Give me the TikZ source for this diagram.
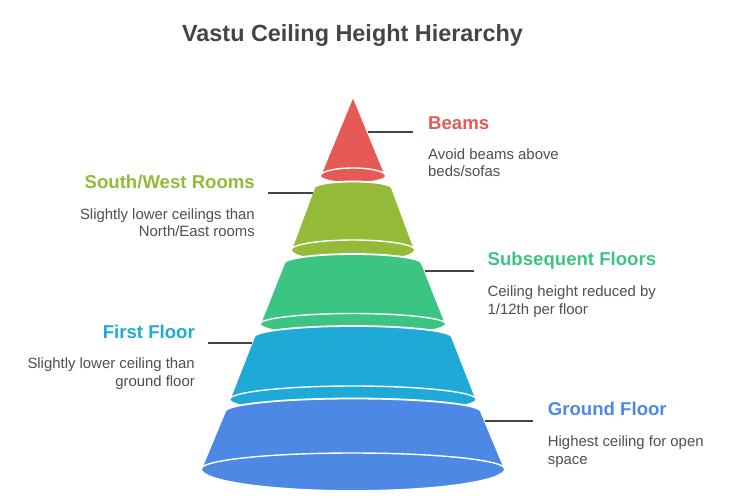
\documentclass[tikz,border=0pt]{standalone}
\usepackage{fontspec}
\setmainfont{Liberation Sans}
\usepackage{tikz}

\definecolor{beamred}{HTML}{E55A54}
\definecolor{swgreen}{HTML}{93BA38}
\definecolor{subgreen}{HTML}{3CC482}
\definecolor{firstblue}{HTML}{1FA9D6}
\definecolor{groundblue}{HTML}{4D88E5}
\definecolor{titlegray}{HTML}{454545}
\definecolor{textgray}{HTML}{4F4F4F}
\definecolor{linegray}{HTML}{444444}

\tikzset{
  tier/.style={draw=white, line width=1.8pt, line join=round},
  rim/.style={draw=white, line width=1.4pt},
  leader/.style={draw=linegray, line width=1.8pt},
  heading/.style={font=\fontsize{18.6}{22}\selectfont\bfseries, inner sep=0pt},
  desc/.style={font=\fontsize{14.9}{17.4}\selectfont, text=textgray, inner sep=0pt},
}

\begin{document}
\begin{tikzpicture}[x=1pt, y=-1pt]

    \useasboundingbox (0,0) rectangle (736,499);

    \node[font=\fontsize{23.4}{28}\selectfont\bfseries, text=titlegray, anchor=base, inner sep=0pt] (title) at (352.5,41.7) {Vastu Ceiling Height Hierarchy};

    \fill[beamred, tier] (353,96) -- (386,176) arc[start angle=0, end angle=-180, x radius=33pt, y radius=7pt] -- cycle;
    \draw[rim] (320,176) arc[start angle=180, end angle=0, x radius=33pt, y radius=8pt];

    \fill[swgreen, tier] (314,188) arc[start angle=180, end angle=0, x radius=39pt, y radius=6.5pt] -- (415,250) arc[start angle=0, end angle=-180, x radius=62pt, y radius=12pt] -- cycle;
    \draw[rim] (291,250) arc[start angle=180, end angle=0, x radius=62pt, y radius=10pt];

    \fill[subgreen, tier] (284,263.5) arc[start angle=180, end angle=0, x radius=69pt, y radius=9.5pt] -- (446,324) arc[start angle=0, end angle=-180, x radius=93pt, y radius=12pt] -- cycle;
    \draw[rim] (260,324) arc[start angle=180, end angle=0, x radius=93pt, y radius=10.5pt];

    \fill[firstblue, tier] (254,337) arc[start angle=180, end angle=0, x radius=99pt, y radius=11pt] -- (476.5,399.5) arc[start angle=0, end angle=-180, x radius=123.5pt, y radius=14pt] -- cycle;
    \draw[rim] (229.5,399.5) arc[start angle=180, end angle=0, x radius=123.5pt, y radius=13.5pt];

    \fill[groundblue, tier] (225,411.5) arc[start angle=180, end angle=0, x radius=128pt, y radius=13pt] -- (505,469) arc[start angle=0, end angle=-180, x radius=152pt, y radius=22pt] -- cycle;
    \draw[rim] (201,469) arc[start angle=180, end angle=0, x radius=152pt, y radius=16pt];

    \node[heading, text=beamred, anchor=base west] (beams) at (428,129.3) {Beams};
    \node[desc, anchor=base west, align=left] (beams-text) at (428,176.7) {Avoid beams above\\beds/sofas};

    \node[heading, text=swgreen, anchor=base east] (southwest) at (255,188.3) {South/West Rooms};
    \node[desc, anchor=base east, align=right] (southwest-text) at (255,236.7) {Slightly lower ceilings than\\North/East rooms};

    \node[heading, text=subgreen, anchor=base west] (subsequent) at (487.5,265.7) {Subsequent Floors};
    \node[desc, anchor=base west, align=left] (subsequent-text) at (487.5,314) {Ceiling height reduced by\\1/12th per floor};

    \node[heading, text=firstblue, anchor=base east] (first) at (195,338.3) {First Floor};
    \node[desc, anchor=base east, align=right] (first-text) at (195,386) {Slightly lower ceiling than\\ground floor};

    \node[heading, text=groundblue, anchor=base west] (ground) at (547.7,415) {Ground Floor};
    \node[desc, anchor=base west, align=left] (ground-text) at (547.7,464) {Highest ceiling for open\\space};

    \coordinate (beams-edge) at (368,132);
    \coordinate (beams-end) at (413,132);
    \coordinate (southwest-edge) at (313,193);
    \coordinate (southwest-end) at (268,193);
    \coordinate (subsequent-edge) at (425,271);
    \coordinate (subsequent-end) at (474,271);
    \coordinate (first-edge) at (252,343);
    \coordinate (first-end) at (208,343);
    \coordinate (ground-edge) at (485,421);
    \coordinate (ground-end) at (533,421);

    \draw[leader] (beams-edge) -- (beams-end);
    \draw[leader] (southwest-edge) -- (southwest-end);
    \draw[leader] (subsequent-edge) -- (subsequent-end);
    \draw[leader] (first-edge) -- (first-end);
    \draw[leader] (ground-edge) -- (ground-end);

\end{tikzpicture}
\end{document}
